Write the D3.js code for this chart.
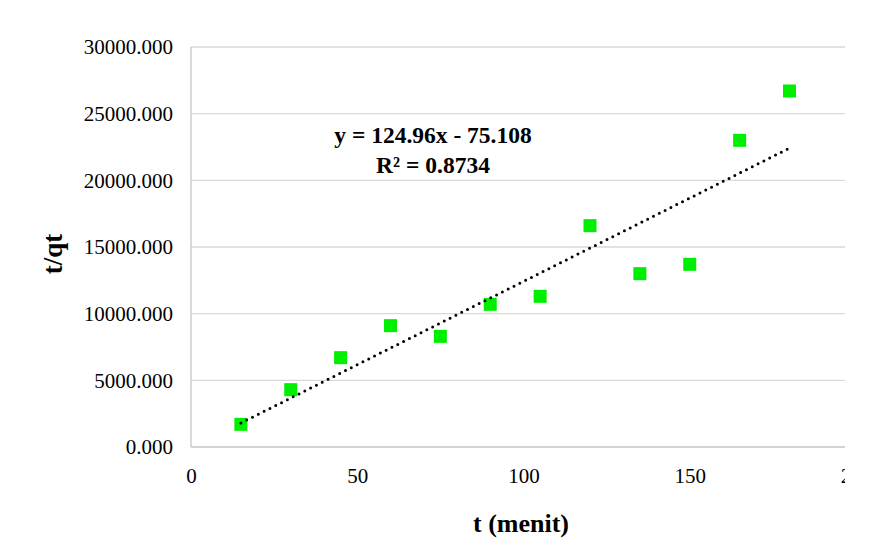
<!DOCTYPE html>
<html>
<head>
<meta charset="utf-8">
<script src="https://cdn.jsdelivr.net/npm/d3@7"></script>
<style>
  body { margin: 0; background: #fff; }
  text { font-family: "Liberation Serif", "Times New Roman", serif; fill: #000; }
</style>
</head>
<body>
<div id="chart"></div>
<script>
// t (menit) vs t/qt
const tValues = [15, 30, 45, 60, 75, 90, 105, 120, 135, 150, 165, 180];
const tqtValues = [1700, 4300, 6700, 9100, 8300, 10700, 11300, 16600, 13000, 13700, 23000, 26700];
const xTicks = [0, 50, 100, 150, 200];
const yTicks = [0, 5000, 10000, 15000, 20000, 25000, 30000];

// linear trendline as shown in the label
const slope = 124.96;
const intercept = -75.108;
const eqLines = ["y = 124.96x - 75.108", "R\u00b2 = 0.8734"];

const width = 878;
const height = 560;
const serif = "'Liberation Serif', 'Times New Roman', serif";

const svg = d3.select("#chart")
    .append("svg")
    .attr("width", width)
    .attr("height", height);

svg.append("rect").attr("width", width).attr("height", height).attr("fill", "#fff");

// the picture is cut off on the right
svg.append("clipPath").attr("id", "cut")
    .append("rect").attr("x", 0).attr("y", 0).attr("width", 845).attr("height", height);

const g = svg.append("g").attr("clip-path", "url(#cut)");

const x = d3.scaleLinear().domain([0, 200]).range([191, 856]);
const y = d3.scaleLinear().domain([0, 30000]).range([447, 47]);

// gridlines
g.selectAll(".grid")
    .data(yTicks.filter(d => d > 0))
    .enter()
    .append("line")
    .attr("x1", x(0))
    .attr("x2", x(200))
    .attr("y1", d => y(d))
    .attr("y2", d => y(d))
    .attr("stroke", "#d9d9d9")
    .attr("stroke-width", 1.3);

// axis lines
g.append("line")
    .attr("x1", x(0)).attr("x2", x(200))
    .attr("y1", y(0)).attr("y2", y(0))
    .attr("stroke", "#c6c6c6").attr("stroke-width", 1.3);
g.append("line")
    .attr("x1", x(0)).attr("x2", x(0))
    .attr("y1", y(0)).attr("y2", y(30000))
    .attr("stroke", "#c6c6c6").attr("stroke-width", 1.3);

const yAxis = g.append("g")
    .attr("transform", `translate(${x(0)},0)`)
    .attr("font-family", serif)
    .call(d3.axisLeft(y).tickValues(yTicks).tickFormat(d3.format(".3f")).tickSize(0).tickPadding(18));
yAxis.attr("font-family", serif);
yAxis.select(".domain").remove();
yAxis.selectAll("text").style("font-size", "21px").style("font-family", serif);

const xAxis = g.append("g")
    .attr("transform", `translate(0,${y(0)})`)
    .call(d3.axisBottom(x).tickValues(xTicks).tickFormat(d3.format("d")).tickSize(0).tickPadding(21));
xAxis.attr("font-family", serif);
xAxis.select(".domain").remove();
xAxis.selectAll("text").style("font-size", "21px").style("font-family", serif);

// markers
const size = 13;
g.selectAll(".pt")
    .data(tValues.map((t, i) => [t, tqtValues[i]]))
    .enter()
    .append("rect")
    .attr("x", d => x(d[0]) - size / 2)
    .attr("y", d => y(d[1]) - size / 2)
    .attr("width", size)
    .attr("height", size)
    .attr("fill", "#00ee00");

// dotted trendline
const tMin = d3.min(tValues), tMax = d3.max(tValues);
g.append("line")
    .attr("x1", x(tMin)).attr("y1", y(slope * tMin + intercept))
    .attr("x2", x(tMax)).attr("y2", y(slope * tMax + intercept))
    .attr("stroke", "#000")
    .attr("stroke-width", 3)
    .attr("stroke-linecap", "round")
    .attr("stroke-dasharray", "0 6.5");

// equation label
g.selectAll(".eq")
    .data(eqLines)
    .enter()
    .append("text")
    .attr("x", 433)
    .attr("y", (d, i) => 143 + i * 30)
    .attr("text-anchor", "middle")
    .style("font-family", serif)
    .style("font-size", "23.5px")
    .style("font-weight", "bold")
    .text(d => d);

// axis titles
g.append("text")
    .attr("x", 521)
    .attr("y", 532)
    .attr("text-anchor", "middle")
    .style("font-family", serif)
    .style("font-size", "26px")
    .style("font-weight", "bold")
    .text("t (menit)");

g.append("text")
    .attr("transform", "translate(62,254) rotate(-90)")
    .attr("text-anchor", "middle")
    .style("font-family", serif)
    .style("font-size", "27px")
    .style("font-weight", "bold")
    .text("t/qt");
</script>
</body>
</html>
